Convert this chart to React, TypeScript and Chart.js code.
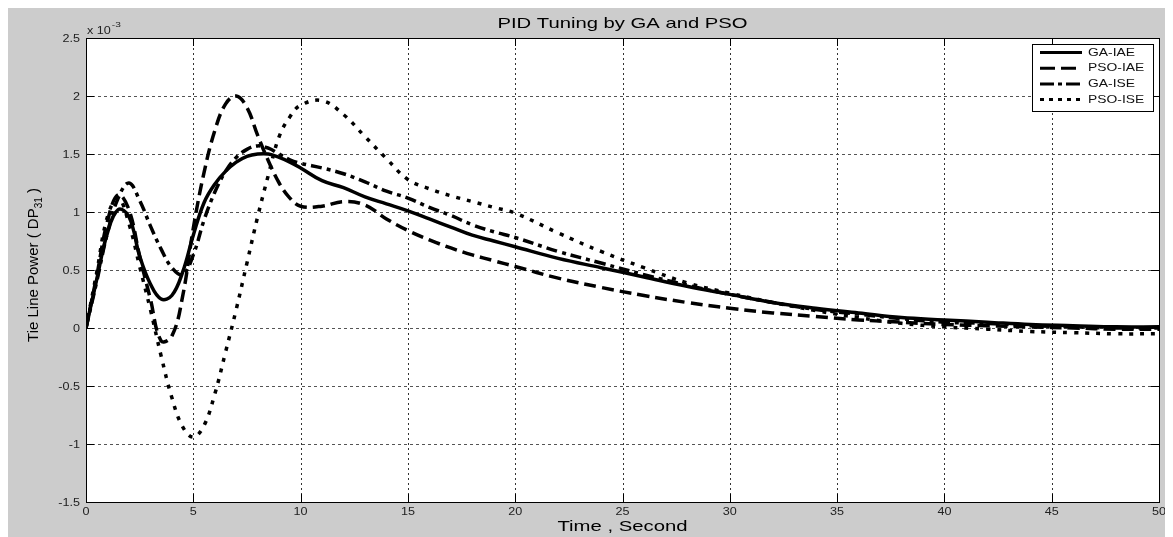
import React, { useEffect, useRef } from "react";
import { Chart, registerables } from "chart.js";

Chart.register(...registerables);

const time = [0, 0.5, 1, 1.5, 2, 2.5, 3, 3.5, 4, 4.5, 5, 5.5, 6, 6.5, 7, 7.5, 8, 8.5, 9, 9.5, 10,
  11, 12, 13, 14, 15, 16, 17, 18, 19, 20, 22, 24, 26, 28, 30, 32, 34, 36, 38, 40, 42, 44, 46, 48, 50];

const gaIae = [0, 0.42, 0.82, 1.02, 0.96, 0.62, 0.38, 0.25, 0.28, 0.48, 0.80, 1.08, 1.24, 1.35, 1.43, 1.48, 1.50, 1.50, 1.47, 1.43, 1.38,
  1.27, 1.21, 1.13, 1.07, 1.01, 0.94, 0.87, 0.80, 0.75, 0.70, 0.60, 0.52, 0.44, 0.36, 0.29, 0.22, 0.17, 0.13, 0.09, 0.07, 0.05, 0.03, 0.02, 0.01, 0.01];

const psoIae = [0, 0.45, 0.92, 1.15, 1.02, 0.62, 0.25, -0.11, -0.07, 0.27, 0.86, 1.34, 1.70, 1.93, 2.00, 1.90, 1.66, 1.44, 1.25, 1.12, 1.05,
  1.05, 1.09, 1.06, 0.94, 0.84, 0.76, 0.69, 0.63, 0.58, 0.53, 0.43, 0.35, 0.28, 0.22, 0.17, 0.13, 0.10, 0.07, 0.05, 0.03, 0.02, 0.01, 0.00, -0.01, -0.01];

const gaIse = [0, 0.40, 0.82, 1.12, 1.25, 1.10, 0.88, 0.68, 0.52, 0.46, 0.63, 0.93, 1.17, 1.35, 1.47, 1.54, 1.57, 1.55, 1.50, 1.45, 1.42,
  1.38, 1.33, 1.26, 1.18, 1.12, 1.04, 0.97, 0.89, 0.83, 0.78, 0.66, 0.56, 0.46, 0.37, 0.29, 0.22, 0.16, 0.12, 0.08, 0.05, 0.04, 0.02, 0.01, 0.00, 0.00];

const psoIse = [0, 0.48, 0.96, 1.12, 0.90, 0.53, 0.16, -0.24, -0.60, -0.85, -0.94, -0.84, -0.57, -0.21, 0.16, 0.56, 0.96, 1.32, 1.65, 1.82, 1.92,
  1.96, 1.84, 1.65, 1.46, 1.28, 1.20, 1.14, 1.09, 1.04, 0.99, 0.82, 0.66, 0.52, 0.39, 0.30, 0.22, 0.15, 0.09, 0.04, 0.01, -0.01, -0.03, -0.04, -0.05, -0.05];

const seriesNames = ["GA-IAE", "PSO-IAE", "GA-ISE", "PSO-ISE"];
const xTicks = [0, 5, 10, 15, 20, 25, 30, 35, 40, 45, 50];
const xTickLabels = ["0", "5", "10", "15", "20", "25", "30", "35", "40", "45", "50"];
const yTicks = [-1.5, -1, -0.5, 0, 0.5, 1, 1.5, 2, 2.5];
const yTickLabels = ["-1.5", "-1", "-0.5", "0", "0.5", "1", "1.5", "2", "2.5"];

const titleText = "PID Tuning by GA and PSO";
const xTitle = "Time , Second";
const yTitleMain = "Tie Line Power ( DP";
const yTitleSub = "31";
const yTitleEnd = " )";

const FONT = "'Liberation Sans', Arial, sans-serif";
const dashes: number[][] = [[], [12, 6], [11, 5, 4, 5], [4, 7]];

function stretchText(ctx: CanvasRenderingContext2D, text: string, x: number, y: number, sx: number, align: CanvasTextAlign, font: string, color: string) {
  ctx.save();
  ctx.font = font;
  ctx.fillStyle = color;
  ctx.textAlign = align;
  ctx.textBaseline = "middle";
  ctx.translate(x, y);
  ctx.scale(sx, 1);
  ctx.fillText(text, 0, 0);
  ctx.restore();
}

const framePlugin = {
  id: "matlabFrame",
  beforeDraw(chart: any) {
    const { ctx, chartArea: a, width, height } = chart;
    ctx.save();
    ctx.fillStyle = "#cccccc";
    ctx.fillRect(0, 0, width, height);
    ctx.fillStyle = "#ffffff";
    ctx.fillRect(a.left, a.top, a.right - a.left, a.bottom - a.top);
    ctx.restore();
  },
  beforeDatasetsDraw(chart: any) {
    const { ctx, chartArea: a, scales } = chart;
    ctx.save();
    ctx.lineWidth = 1;
    ctx.strokeStyle = "#333";
    ctx.setLineDash([2, 3]);
    xTicks.forEach((v) => {
      const x = Math.round(scales.x.getPixelForValue(v)) + 0.5;
      ctx.beginPath();
      ctx.moveTo(x, a.top);
      ctx.lineTo(x, a.bottom);
      ctx.stroke();
    });
    ctx.strokeStyle = "#555";
    ctx.setLineDash([3, 3]);
    yTicks.forEach((v) => {
      const y = Math.round(scales.y.getPixelForValue(v)) + 0.5;
      ctx.beginPath();
      ctx.moveTo(a.left, y);
      ctx.lineTo(a.right, y);
      ctx.stroke();
    });
    ctx.restore();
  },
  afterDraw(chart: any) {
    const { ctx, chartArea: a, scales } = chart;
    ctx.save();
    ctx.setLineDash([]);
    ctx.strokeStyle = "#000";
    ctx.lineWidth = 1;
    const tl = 8;
    xTicks.forEach((v) => {
      const x = Math.round(scales.x.getPixelForValue(v)) + 0.5;
      ctx.beginPath();
      ctx.moveTo(x, a.bottom);
      ctx.lineTo(x, a.bottom - tl);
      ctx.moveTo(x, a.top);
      ctx.lineTo(x, a.top + tl);
      ctx.stroke();
    });
    yTicks.forEach((v) => {
      const y = Math.round(scales.y.getPixelForValue(v)) + 0.5;
      ctx.beginPath();
      ctx.moveTo(a.left, y);
      ctx.lineTo(a.left + tl, y);
      ctx.moveTo(a.right, y);
      ctx.lineTo(a.right - tl, y);
      ctx.stroke();
    });
    ctx.strokeRect(Math.round(a.left) + 0.5, Math.round(a.top) + 0.5, Math.round(a.right - a.left), Math.round(a.bottom - a.top));

    const tickFont = `10px ${FONT}`;
    xTicks.forEach((v, i) => {
      const x = scales.x.getPixelForValue(v);
      stretchText(ctx, xTickLabels[i], x, a.bottom + 10, 1.26, "center", tickFont, "#222");
    });
    yTicks.forEach((v, i) => {
      const y = scales.y.getPixelForValue(v);
      stretchText(ctx, yTickLabels[i], a.left - 6, y + 1, 1.26, "right", tickFont, "#222");
    });
    ctx.font = tickFont;
    const w1 = ctx.measureText("x 10").width * 1.26;
    stretchText(ctx, "x 10", a.left + 1, a.top - 7, 1.26, "left", tickFont, "#222");
    stretchText(ctx, "-3", a.left + 2 + w1, a.top - 13, 1.26, "left", `8px ${FONT}`, "#222");

    const cx = (a.left + a.right) / 2;
    stretchText(ctx, titleText, cx, a.top - 14, 1.35, "center", `15px ${FONT}`, "#000");
    stretchText(ctx, xTitle, cx, a.bottom + 25, 1.45, "center", `14px ${FONT}`, "#000");

    ctx.save();
    ctx.translate(26, (a.top + a.bottom) / 2 - 5);
    ctx.rotate(-Math.PI / 2);
    ctx.fillStyle = "#000";
    ctx.textBaseline = "middle";
    ctx.textAlign = "left";
    const mainFont = `15px ${FONT}`;
    const subFont = `10px ${FONT}`;
    ctx.font = mainFont;
    const wm = ctx.measureText(yTitleMain).width;
    const we = ctx.measureText(yTitleEnd).width;
    ctx.font = subFont;
    const ws = ctx.measureText(yTitleSub).width;
    let x0 = -(wm + ws + we) / 2;
    ctx.font = mainFont;
    ctx.fillText(yTitleMain, x0, 0);
    x0 += wm;
    ctx.font = subFont;
    ctx.fillText(yTitleSub, x0, 5);
    x0 += ws;
    ctx.font = mainFont;
    ctx.fillText(yTitleEnd, x0, 0);
    ctx.restore();

    const lx = a.right - 127;
    const ly = a.top + 6;
    const lw = 121;
    const lh = 67;
    ctx.fillStyle = "#fff";
    ctx.fillRect(lx, ly, lw, lh);
    ctx.strokeStyle = "#000";
    ctx.lineWidth = 1;
    ctx.setLineDash([]);
    ctx.strokeRect(Math.round(lx) + 0.5, Math.round(ly) + 0.5, lw, lh);
    seriesNames.forEach((name, i) => {
      const yy = ly + 8.5 + i * 15.7;
      ctx.save();
      ctx.strokeStyle = "#000";
      ctx.lineWidth = 3;
      ctx.setLineDash(i === 1 ? [15, 6] : i === 2 ? [14, 4, 4, 4] : i === 3 ? [4, 5] : []);
      ctx.beginPath();
      ctx.moveTo(lx + 8, yy);
      ctx.lineTo(lx + 50, yy);
      ctx.stroke();
      ctx.restore();
      stretchText(ctx, name, lx + 56, yy, 1.26, "left", `11px ${FONT}`, "#111");
    });
    ctx.restore();
  },
};

export default function App() {
  const ref = useRef<HTMLCanvasElement | null>(null);

  useEffect(() => {
    document.documentElement.style.overflow = "hidden";
    document.body.style.overflow = "hidden";
    const canvas = ref.current;
    if (!canvas) return;
    const seriesData = [gaIae, psoIae, gaIse, psoIse];
    const chart = new Chart(canvas, {
      type: "line",
      data: {
        datasets: seriesData.map((arr, i) => ({
          label: seriesNames[i],
          data: time.map((t, j) => ({ x: t, y: arr[j] })),
          borderColor: "#000",
          borderWidth: 3.5,
          borderDash: dashes[i],
          pointRadius: 0,
          fill: false,
          tension: 0.4,
        })),
      },
      options: {
        responsive: false,
        animation: false,
        devicePixelRatio: 1,
        layout: { padding: { left: 78, right: 14, top: 30, bottom: 35 } },
        plugins: {
          legend: { display: false },
          title: { display: false },
          tooltip: { enabled: false },
        },
        scales: {
          x: { type: "linear", min: 0, max: 50, display: false },
          y: { type: "linear", min: -1.5, max: 2.5, display: false },
        },
        events: [],
      },
      plugins: [framePlugin],
    });
    return () => chart.destroy();
  }, []);

  return (
    <div style={{ width: 1165, height: 529 }}>
      <canvas ref={ref} width={1165} height={529} style={{ display: "block" }} />
    </div>
  );
}
